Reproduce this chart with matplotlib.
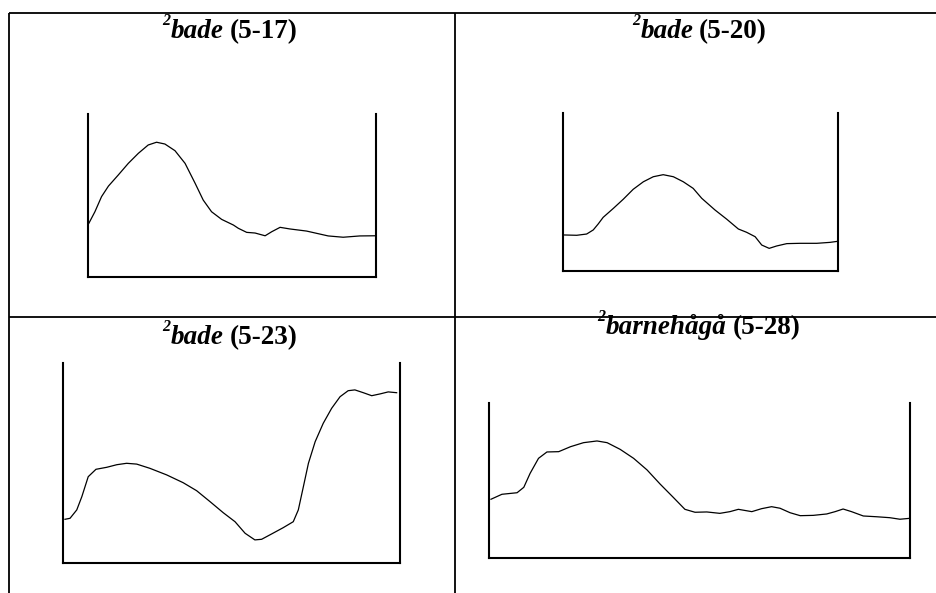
import matplotlib
matplotlib.use("Agg")
import matplotlib.pyplot as plt
from matplotlib.lines import Line2D

W, H, DPI = 936, 593, 100

# ---------------- data (x: 0-100 across the axes, y: 0-100 bottom to top) -------------
x1 = [0.3, 2.4, 4.7, 7.1, 10.5, 14.0, 17.5, 20.9, 23.8, 26.7, 30.2, 33.7, 37.2, 40.0,
      42.9, 46.4, 50.5, 52.2, 55.1, 58.0, 61.5, 63.8, 66.7, 70.1, 75.9, 79.4, 83.4, 88.6,
      94.4, 99.7]
y1 = [32.9, 40.0, 49.3, 55.8, 62.6, 69.8, 76.0, 81.1, 82.8, 81.7, 77.6, 69.8, 57.5, 47.2,
      40.0, 35.3, 31.8, 29.8, 27.3, 26.9, 25.2, 27.7, 30.4, 29.4, 28.1, 26.7, 25.1, 24.3,
      25.1, 25.2]

x2 = [0.5, 5.1, 8.7, 11.1, 12.9, 14.7, 18.4, 22.0, 25.6, 29.3, 32.9, 36.5, 40.2, 43.8,
      47.4, 50.5, 55.3, 59.6, 63.8, 66.8, 69.9, 72.3, 75.0, 77.7, 81.4, 86.2, 92.3, 97.1, 100]
y2 = [22.7, 22.5, 23.3, 25.9, 29.7, 33.9, 39.6, 45.4, 51.7, 56.5, 59.7, 61.0, 59.7, 56.5,
      52.3, 46.0, 38.6, 32.7, 26.5, 24.4, 21.6, 16.3, 14.2, 15.7, 17.2, 17.4, 17.4, 18.0, 18.7]

x3 = [0.5, 2.0, 4.0, 5.5, 7.4, 9.7, 12.9, 15.9, 18.8, 21.8, 25.7, 30.7, 35.6, 39.6,
      43.6, 47.5, 51.0, 54.0, 56.9, 58.9, 61.9, 65.3, 68.3, 69.8, 71.3, 72.8, 74.8, 77.2,
      79.7, 82.2, 84.6, 86.6, 89.1, 91.6, 94.1, 96.5, 99.0]
y3 = [22.0, 22.5, 26.7, 33.3, 43.3, 47.0, 48.0, 49.3, 50.0, 49.6, 47.5, 44.2, 40.3, 36.3,
      30.8, 25.3, 20.8, 15.0, 11.7, 12.0, 14.7, 17.8, 20.8, 26.7, 38.3, 50.0, 60.8, 70.0,
      77.5, 83.3, 86.3, 86.7, 85.3, 83.8, 84.7, 85.7, 85.3]

x4 = [0.4, 3.0, 6.6, 8.2, 9.7, 11.7, 13.7, 16.5, 19.3, 22.4, 25.6, 28.0, 31.1, 34.3,
      37.5, 40.6, 43.7, 46.5, 48.9, 51.7, 54.8, 57.2, 59.2, 62.4, 64.7, 67.1, 69.1, 71.5,
      73.9, 77.0, 80.2, 82.2, 84.1, 86.1, 88.9, 92.1, 95.2, 97.6, 100]
y4 = [38.1, 41.3, 42.3, 45.8, 54.8, 64.5, 68.6, 68.8, 72.0, 74.6, 75.7, 74.6, 70.3, 64.5,
      57.0, 47.9, 39.4, 31.6, 29.7, 29.9, 29.0, 30.1, 31.6, 30.1, 32.0, 33.3, 32.3, 29.4,
      27.5, 27.7, 28.6, 30.1, 31.8, 30.1, 27.3, 26.8, 26.2, 25.2, 25.8]

title_words = ["bade", "bade", "bade", "barnehågå"]
title_codes = ["(5-17)", "(5-20)", "(5-23)", "(5-28)"]
title_sup = ["2", "2", "2", "2"]

# ---------------- layout (pixels) ----------------
panels = [
    dict(x=x1, y=y1, box=(88, 114.3, 376, 276.7), title=(230, 38)),
    dict(x=x2, y=y2, box=(562.7, 113.3, 838, 270.7), title=(699.5, 38)),
    dict(x=x3, y=y3, box=(63.3, 363.3, 400, 563.3), title=(230, 344)),
    dict(x=x4, y=y4, box=(489.3, 403.3, 910, 558.3), title=(699, 334)),
]

fig = plt.figure(figsize=(W / DPI, H / DPI), dpi=DPI)
fig.patch.set_facecolor("white")


def fx(px):
    return px / W


def fy(py):
    return 1 - py / H


# table grid lines
grid = [((8.5, 12.7), (936, 12.7)),
        ((8.5, 317), (936, 317)),
        ((8.5, 12.7), (8.5, 593)),
        ((455, 12.7), (455, 593))]
for (xa, ya), (xb, yb) in grid:
    fig.add_artist(Line2D([fx(xa), fx(xb)], [fy(ya), fy(yb)],
                          transform=fig.transFigure, color="black", lw=1.3,
                          solid_capstyle="butt"))

FAM = "Liberation Serif"
renderer = fig.canvas.get_renderer()


def draw_title(cx, base_y, sup, word, code):
    parts = [(sup, dict(fontsize=11.5, fontweight="bold", fontstyle="italic"), 13, 0.5),
             (word, dict(fontsize=19.5, fontweight="bold", fontstyle="italic"), 0, 5.5),
             (code, dict(fontsize=19.5, fontweight="bold"), 0, 0)]
    items = []
    total = 0
    for s, kw, dy, gap in parts:
        t = fig.text(0, 0, s, family=FAM, ha="left", va="baseline", **kw)
        w = t.get_window_extent(renderer=renderer).width
        items.append((t, w, dy, gap))
        total += w + gap
    x = cx - total / 2
    for t, w, dy, gap in items:
        t.set_position((fx(x), fy(base_y - dy)))
        x += w + gap


for i, p in enumerate(panels):
    l, t, r, b = p["box"]
    ax = fig.add_axes([fx(l), fy(b), (r - l) / W, (b - t) / H])
    ax.plot(p["x"], p["y"], color="black", lw=0.9, solid_joinstyle="round")
    ax.set_xlim(0, 100)
    ax.set_ylim(0, 100)
    ax.set_xticks([])
    ax.set_yticks([])
    ax.patch.set_alpha(0)
    ax.spines["top"].set_visible(False)
    for s in ("left", "right", "bottom"):
        ax.spines[s].set_linewidth(1.5)
        ax.spines[s].set_color("black")
    draw_title(p["title"][0], p["title"][1], title_sup[i], title_words[i], title_codes[i])

fig.savefig("out.png", dpi=DPI, facecolor="white")
